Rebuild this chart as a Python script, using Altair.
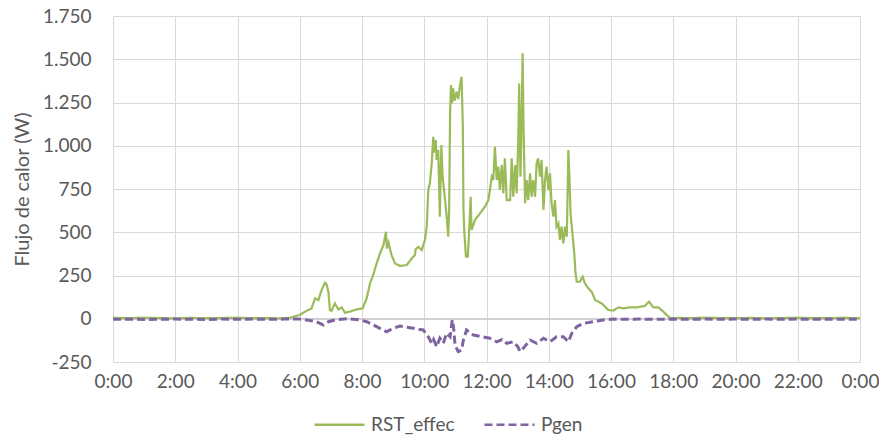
import altair as alt
import pandas as pd

# RST_effec (green) : time in hours, heat flow in W
rst_t = [0, 0.5, 1, 1.5, 2, 2.5, 3, 3.5, 4, 4.5, 5, 5.37, 5.69, 6.0, 6.17, 6.38, 6.49, 6.6, 6.7, 6.81,
         6.86, 6.92, 6.97, 7.02, 7.13, 7.24, 7.35, 7.45, 7.61, 7.83, 8.02, 8.15, 8.26, 8.36, 8.47, 8.58,
         8.69, 8.77, 8.8, 8.85, 8.95, 9.06, 9.22, 9.44, 9.6, 9.7, 9.72, 9.81, 9.92, 10.02, 10.08, 10.13,
         10.18, 10.24, 10.29, 10.33, 10.37, 10.4, 10.45, 10.5, 10.55, 10.59, 10.67, 10.72, 10.77, 10.8,
         10.83, 10.86, 10.89, 10.93, 10.97, 11.04, 11.09, 11.15, 11.2, 11.24, 11.26, 11.29, 11.34, 11.4,
         11.44, 11.49, 11.52, 11.63, 11.79, 11.95, 12.06, 12.11, 12.17, 12.22, 12.27, 12.33, 12.38, 12.43,
         12.49, 12.54, 12.59, 12.65, 12.76, 12.81, 12.86, 12.92, 12.97, 13.02, 13.05, 13.09, 13.13, 13.16,
         13.19, 13.24, 13.29, 13.34, 13.4, 13.45, 13.5, 13.56, 13.61, 13.66, 13.72, 13.77, 13.83, 13.88,
         13.93, 13.99, 14.04, 14.09, 14.15, 14.2, 14.25, 14.31, 14.36, 14.41, 14.47, 14.52, 14.58, 14.63,
         14.66, 14.7, 14.77, 14.82, 14.86, 14.9, 15.0, 15.09, 15.16, 15.27, 15.38, 15.49, 15.59, 15.7,
         15.81, 15.91, 16.07, 16.24, 16.4, 16.61, 16.83, 17.09, 17.22, 17.36, 17.52, 17.68, 17.9, 18.2,
         18.5, 19, 19.5, 20, 20.5, 21, 21.5, 22, 22.5, 23, 23.5, 24]
rst_v = [5, 3, 6, 4, 2, 5, 3, 4, 6, 3, 4, 2, 6, 22, 41, 60, 118, 108, 166, 208,
         200, 156, 50, 45, 89, 54, 66, 35, 41, 54, 60, 118, 205, 253, 320, 378,
         426, 503, 407, 440, 368, 320, 305, 311, 349, 368, 400, 416, 397, 455, 532, 744,
         783, 898, 1052, 960, 1033, 918, 975, 590, 1004, 821, 686, 590, 474, 629,
         1188, 1351, 1245, 1332, 1260, 1312, 1270, 1351, 1399, 1110, 629, 494, 359, 359,
         494, 705, 513, 571, 609, 648, 686, 744, 821, 802, 994, 802, 879, 744,
         889, 725, 927, 686, 686, 927, 705, 889, 725, 1033, 1360, 821, 1149, 1534,
         1110, 667, 802, 686, 841, 705, 802, 705, 898, 927, 821, 918, 629, 802,
         879, 744, 841, 667, 590, 686, 532, 551, 455, 532, 436, 532, 474, 975,
         841, 609, 474, 378, 263, 214, 214, 243, 205, 176, 156, 108, 99, 89,
         70, 51, 47, 66, 60, 66, 66, 74, 99, 66, 66, 41, 3, 5,
         3, 6, 4, 3, 5, 2, 4, 6, 3, 4, 5, 3]

# Pgen (purple, dashed)
pgen_t = [0, 0.5, 1, 1.5, 2, 2.5, 3, 3.5, 4, 4.5, 5, 5.5, 6.0, 6.22, 6.54, 6.76, 6.92, 7.13, 7.51,
          7.94, 8.15, 8.47, 8.79, 9.0, 9.22, 9.49, 9.65, 9.97, 10.13, 10.24, 10.3, 10.4, 10.5, 10.61,
          10.72, 10.83, 10.9, 10.94, 10.99, 11.09, 11.2, 11.26, 11.36, 11.58, 11.85, 12.11, 12.33,
          12.5, 12.65, 12.86, 13.0, 13.08, 13.18, 13.4, 13.61, 13.83, 14.04, 14.25, 14.47, 14.63,
          14.74, 14.9, 15.11, 15.43, 15.75, 16.07, 16.5, 17, 17.5, 18, 18.5, 19, 19.5, 20, 20.5,
          21, 21.5, 22, 22.5, 23, 23.5, 24]
pgen_v = [-3, -2, -4, -3, -2, -3, -4, -2, -3, -2, -3, -2, -2, -7, -17, -36, -17, -7, 0,
          -7, -17, -46, -75, -55, -42, -50, -55, -65, -104, -142, -120, -162, -113, -142,
          -84, -104, -7, -46, -152, -190, -181, -120, -65, -94, -104, -113, -133,
          -120, -142, -133, -160, -190, -171, -123, -142, -113, -133, -104, -104, -133,
          -84, -46, -27, -17, -7, -2, -3, -2, -3, -2, -3, -2, -3, -2, -3,
          -2, -3, -2, -3, -2, -3, -2]

series_names = ["RST_effec", "Pgen"]
series_colors = ["#9BBB59", "#8064A2"]

x_ticks = list(range(0, 25, 2))
y_ticks = list(range(-250, 1751, 250))

df_rst = pd.DataFrame({"t": rst_t, "v": rst_v, "serie": "RST_effec"})
df_pgen = pd.DataFrame({"t": pgen_t, "v": pgen_v, "serie": "Pgen"})

FONT = "Lato"
TXT = "#595959"
FS = 19

x_enc = alt.X("t:Q", scale=alt.Scale(domain=[0, 24], nice=False, zero=False),
              axis=alt.Axis(values=x_ticks, labelExpr="(datum.value % 24) + ':00'",
                            title=None, ticks=False, domain=False, labelPadding=10,
                            labelFlush=False, labelOverlap=False,
                            gridColor="#D9D9D9", labelFontSize=FS, labelColor=TXT,
                            labelFont=FONT))
y_enc = alt.Y("v:Q", scale=alt.Scale(domain=[-250, 1750], nice=False, zero=False),
              axis=alt.Axis(values=y_ticks,
                            labelExpr="datum.value >= 1000 ? replace(format(datum.value, ','), ',', '.') : '' + datum.value",
                            title="Flujo de calor (W)", ticks=False, domain=False, labelPadding=22,
                            labelFlush=False, labelOverlap=False,
                            gridColor="#D9D9D9", labelFontSize=FS, labelColor=TXT, labelFont=FONT,
                            titleFont=FONT, titleFontSize=20, titleColor=TXT, titleFontWeight="normal",
                            titleX=-91, titleY=173, titleAngle=-90, titleAlign="center",
                            titleBaseline="middle"))

legend_cfg = dict(title=None, orient="none", legendX=200, legendY=382,
                  direction="horizontal", symbolType="stroke",
                  symbolSize=2500, symbolStrokeWidth=2.5,
                  labelFontSize=FS, labelFont=FONT, labelColor=TXT,
                  labelOffset=5, columnPadding=24)

color_enc = alt.Color("serie:N", scale=alt.Scale(domain=series_names, range=series_colors),
                      legend=alt.Legend(**legend_cfg))
dash_enc = alt.StrokeDash("serie:N", scale=alt.Scale(domain=series_names, range=[[1, 0], [8, 4]]),
                          legend=alt.Legend(**legend_cfg))

zero_rule = alt.Chart(pd.DataFrame({"v": [0]})).mark_rule(color="#BFBFBF", strokeWidth=1).encode(
    y=alt.Y("v:Q"))

line_rst = alt.Chart(df_rst).mark_line(strokeWidth=2.2).encode(
    x=x_enc, y=y_enc, color=color_enc, strokeDash=dash_enc)
line_pgen = alt.Chart(df_pgen).mark_line(strokeWidth=3).encode(
    x=x_enc, y=y_enc, color=color_enc, strokeDash=dash_enc)

chart = alt.layer(zero_rule, line_rst, line_pgen).properties(
    width=747, height=346,
    autosize=alt.AutoSizeParams(type="none"),
    padding={"left": 105, "top": 8, "right": 19, "bottom": 76},
    background="white",
).configure_view(stroke=None)

chart.save("out.html", embed_options={"renderer": "svg", "actions": False})
